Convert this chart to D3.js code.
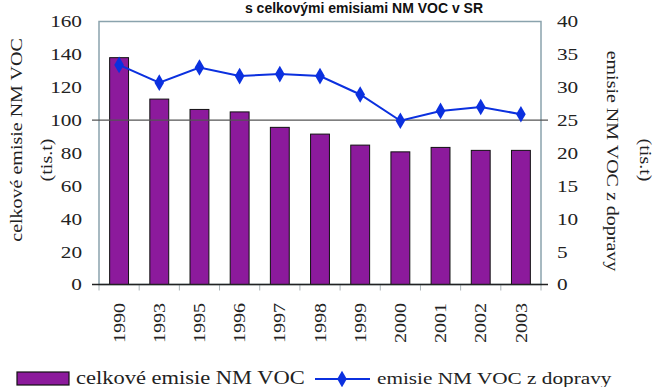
<!DOCTYPE html>
<html>
<head>
<meta charset="utf-8">
<script src="https://cdn.jsdelivr.net/npm/d3@7"></script>
<style>
  html, body { margin: 0; padding: 0; background: #fff; }
  svg { display: block; }
</style>
</head>
<body>
<svg id="chart" width="653" height="387"></svg>
<script>
// Years on the category axis
const years = ["1990", "1993", "1995", "1996", "1997", "1998", "1999", "2000", "2001", "2002", "2003"];
// Total NM VOC emissions (thousand t), left axis
const totalEmissions = [138, 112.8, 106.5, 105, 95.6, 91.5, 84.8, 80.7, 83.4, 81.6, 81.6];
// NM VOC emissions from transport (thousand t), right axis
const transportEmissions = [33.4, 30.7, 33.0, 31.7, 32.0, 31.7, 28.9, 24.9, 26.4, 27.0, 25.9];
// Tick labels
const leftTicks = [0, 20, 40, 60, 80, 100, 120, 140, 160];
const rightTicks = [0, 5, 10, 15, 20, 25, 30, 35, 40];

const svg = d3.select("#chart");
const SERIF = '"Liberation Serif"';
const WIDE = 1.25; // horizontal stretch of the serif lettering

const plot = { left: 99, right: 541, top: 21.5, bottom: 284.5 };

const x = d3.scaleBand().domain(years).range([plot.left, plot.right]).padding(0);
const yL = d3.scaleLinear().domain([0, 160]).range([plot.bottom, plot.top]);
const yR = d3.scaleLinear().domain([0, 40]).range([plot.bottom, plot.top]);

function serifText(sel, size) {
  return sel.style("font-family", SERIF).style("font-size", size + "px").attr("fill", "#222");
}

// Title line
svg.append("text")
  .attr("x", 364).attr("y", 13)
  .attr("text-anchor", "middle")
  .style("font-family", '"Liberation Sans"')
  .style("font-weight", "bold")
  .style("font-size", "14px")
  .attr("fill", "#111")
  .text("s celkovými emisiami NM VOC v SR");

// Plot frame
svg.append("rect")
  .attr("x", plot.left).attr("y", plot.top)
  .attr("width", plot.right - plot.left).attr("height", plot.bottom - plot.top)
  .attr("fill", "none").attr("stroke", "#8aa3ad").attr("stroke-width", 1.5);

// Category ticks below the axis
svg.append("g").selectAll("line")
  .data(years.concat(["end"]))
  .join("line")
  .attr("x1", (d, i) => plot.left + i * x.step())
  .attr("x2", (d, i) => plot.left + i * x.step())
  .attr("y1", plot.bottom).attr("y2", plot.bottom + 6)
  .attr("stroke", "#a9b4b8").attr("stroke-width", 1);

// Bars
svg.append("g").selectAll("rect")
  .data(totalEmissions)
  .join("rect")
  .attr("x", (d, i) => x(years[i]) + x.bandwidth() * 0.265)
  .attr("width", x.bandwidth() * 0.47)
  .attr("y", d => yL(d))
  .attr("height", d => yL(0) - yL(d))
  .attr("fill", "#8c1a9c")
  .attr("stroke", "#111").attr("stroke-width", 1);

// Reference lines at 100 (left) / 25 (right) and at zero
[100, 0].forEach(v => {
  svg.append("line")
    .attr("x1", plot.left - 7).attr("x2", plot.right + 7)
    .attr("y1", yL(v)).attr("y2", yL(v))
    .attr("stroke", v === 0 ? "#222" : "#555").attr("stroke-width", v === 0 ? 1.6 : 1.3);
});

// Transport emissions line
const line = d3.line()
  .x((d, i) => x(years[i]) + x.bandwidth() / 2)
  .y(d => yR(d));
svg.append("path")
  .datum(transportEmissions)
  .attr("d", line)
  .attr("fill", "none").attr("stroke", "#0b30df").attr("stroke-width", 2);

const diamond = d3.symbol().type(d3.symbolDiamond).size(80);
svg.append("g").selectAll("path")
  .data(transportEmissions)
  .join("path")
  .attr("d", diamond)
  .attr("transform", (d, i) => `translate(${x(years[i]) + x.bandwidth() / 2},${yR(d)})`)
  .attr("fill", "#0b30df");

// Left axis labels
const leftAxis = svg.append("g")
  .attr("transform", `translate(${plot.left - 17},0)`)
  .call(d3.axisLeft(yL).tickValues(leftTicks).tickSize(0).tickPadding(0));
leftAxis.select(".domain").remove();
serifText(leftAxis.selectAll("text"), 17).attr("transform", `scale(${WIDE},1)`);

// Right axis labels
const rightAxis = svg.append("g")
  .attr("transform", `translate(${plot.right + 16},0)`)
  .call(d3.axisRight(yR).tickValues(rightTicks).tickSize(0).tickPadding(0));
rightAxis.select(".domain").remove();
serifText(rightAxis.selectAll("text"), 17).attr("transform", `scale(${WIDE},1)`);

// Year labels, rotated
serifText(svg.append("g").selectAll("text")
  .data(years)
  .join("text")
  .attr("transform", d => `translate(${x(d) + x.bandwidth() / 2},303) rotate(-90) scale(${WIDE},1)`)
  .attr("text-anchor", "end")
  .attr("dy", "0.35em")
  .text(d => d), 16);

// Axis titles
function title(tx, ty, rot, str) {
  serifText(svg.append("text"), 16)
    .attr("transform", `translate(${tx},${ty}) rotate(${rot}) scale(${WIDE},1)`)
    .attr("text-anchor", "middle")
    .text(str);
}
title(22, 140, -90, "celkové emisie NM VOC");
title(52, 160, -90, "(tis.t)");
title(607, 161, 90, "emisie NM VOC z dopravy");
title(640, 160, 90, "(tis.t)");

// Legend
const legend = svg.append("g");
legend.append("rect")
  .attr("x", 17).attr("y", 372).attr("width", 52).attr("height", 13)
  .attr("fill", "#8c1a9c").attr("stroke", "#111").attr("stroke-width", 1.2);
serifText(legend.append("text"), 18)
  .attr("transform", `translate(76,384) scale(${WIDE},1)`)
  .text("celkové emisie NM VOC");
legend.append("line")
  .attr("x1", 315).attr("x2", 370).attr("y1", 379).attr("y2", 379)
  .attr("stroke", "#0b30df").attr("stroke-width", 2);
legend.append("path")
  .attr("d", diamond)
  .attr("transform", "translate(342,379)")
  .attr("fill", "#0b30df");
serifText(legend.append("text"), 17)
  .attr("transform", `translate(377,384) scale(${WIDE},1)`)
  .text("emisie NM VOC z dopravy");
</script>
</body>
</html>
